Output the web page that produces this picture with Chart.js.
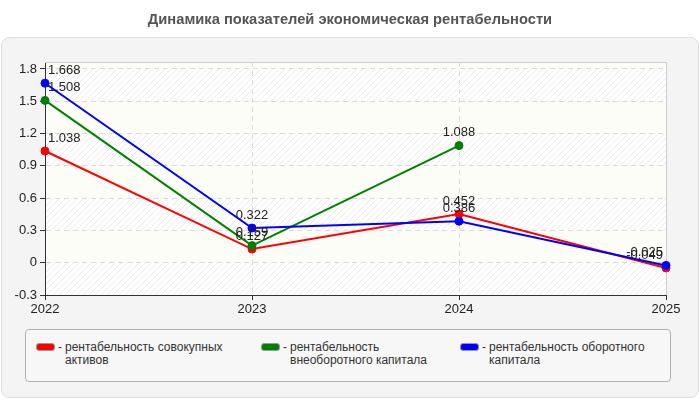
<!DOCTYPE html>
<html lang="ru">
<head>
<meta charset="utf-8">
<script src="https://cdn.jsdelivr.net/npm/chart.js@4/dist/chart.umd.min.js"></script>
<style>
    html, body { margin: 0; padding: 0; background: #fff; }
    #wrap { position: relative; width: 700px; height: 400px; overflow: hidden; font-family: "Liberation Sans", Arial, sans-serif; }
    #title { position: absolute; top: 11px; left: 0; width: 700px; text-align: center; font-size: 14.7px; font-weight: bold; color: #555; }
    #chart { position: absolute; left: 0; top: 0; }
    #legend { position: absolute; left: 25px; top: 329px; width: 646px; height: 53px; border: 1px solid #b0b0b0; border-radius: 4px; background: #f7f7f7; box-sizing: border-box; }
    .item { position: absolute; top: 11px; display: flex; align-items: flex-start; font-size: 12px; line-height: 13px; color: #333; }
    .swatch { width: 17px; height: 6px; border-radius: 3px; border: 1px solid #999; margin-top: 2px; }
    .dash { margin: 0 3px 0 3px; }
</style>
</head>
<body>
<div id="wrap">
    <canvas id="chart" width="700" height="400"></canvas>
    <div id="title">Динамика показателей экономическая рентабельности</div>
    <div id="legend"></div>
</div>
<script>
// chart data
const years = ["2022", "2023", "2024", "2025"];
const totalAssetsReturn = [1.038, 0.127, 0.452, -0.049];
const fixedCapitalReturn = [1.508, 0.159, 1.088, null];
const workingCapitalReturn = [1.668, 0.322, 0.386, -0.025];
const seriesNames = [
    "рентабельность совокупных активов",
    "рентабельность внеоборотного капитала",
    "рентабельность оборотного капитала"
];
const seriesColors = ["#ff0000", "#008000", "#0000ff"];
const yTicks = [-0.3, 0, 0.3, 0.6, 0.9, 1.2, 1.5, 1.8];
const yMin = -0.3;
const yMax = 1.865;

document.addEventListener("DOMContentLoaded", function () {
    const ctx = document.getElementById("chart").getContext("2d");

    // hatch pattern for the striped plot background
    const patCanvas = document.createElement("canvas");
    patCanvas.width = 6;
    patCanvas.height = 6;
    const pctx = patCanvas.getContext("2d");
    pctx.fillStyle = "#ffffff";
    pctx.fillRect(0, 0, 6, 6);
    pctx.strokeStyle = "#ebebeb";
    pctx.lineWidth = 1;
    pctx.beginPath();
    pctx.moveTo(-1, 7); pctx.lineTo(7, -1);
    pctx.moveTo(-1, 1); pctx.lineTo(1, -1);
    pctx.moveTo(5, 7); pctx.lineTo(7, 5);
    pctx.stroke();
    const hatch = ctx.createPattern(patCanvas, "repeat");

    const backgroundPlugin = {
        id: "panelBackground",
        beforeDraw(chart) {
            const c = chart.ctx;
            const area = chart.chartArea;
            const y = chart.scales.y;
            c.save();
            // grey panel
            c.fillStyle = "#f4f4f4";
            c.strokeStyle = "#dedede";
            c.lineWidth = 1;
            c.beginPath();
            c.roundRect(1.5, 37.5, 697, 360, 8);
            c.fill();
            c.stroke();
            // alternating bands between the ticks
            const bounds = [yMax].concat(yTicks.slice().reverse());
            for (let i = 0; i < bounds.length - 1; i++) {
                const top = y.getPixelForValue(bounds[i]);
                const bottom = y.getPixelForValue(bounds[i + 1]);
                c.fillStyle = i % 2 === 0 ? "#fdfdf7" : hatch;
                c.fillRect(area.left, top, area.right - area.left, bottom - top);
            }
            c.restore();
        },
        beforeDatasetsDraw(chart) {
            const c = chart.ctx;
            const area = chart.chartArea;
            c.save();
            c.strokeStyle = "#cccccc";
            c.lineWidth = 1;
            c.beginPath();
            c.moveTo(area.left, area.top + 0.5);
            c.lineTo(area.right + 0.5, area.top + 0.5);
            c.lineTo(area.right + 0.5, area.bottom);
            c.stroke();
            c.restore();
        }
    };

    // value labels above each point
    const valueLabels = {
        id: "valueLabels",
        afterDatasetsDraw(chart) {
            const c = chart.ctx;
            const area = chart.chartArea;
            c.save();
            c.font = "13px 'Liberation Sans', Arial, sans-serif";
            c.fillStyle = "#222";
            c.textBaseline = "middle";
            c.textAlign = "left";
            chart.data.datasets.forEach((ds, di) => {
                const meta = chart.getDatasetMeta(di);
                meta.data.forEach((pt, i) => {
                    const v = ds.data[i];
                    if (v === null || v === undefined) return;
                    const text = String(v);
                    const w = c.measureText(text).width;
                    let x = pt.x - w / 2;
                    x = Math.max(area.left + 3, Math.min(area.right - 3 - w, x));
                    c.fillText(text, x, pt.y - 13);
                });
            });
            c.restore();
        }
    };

    const datasets = [totalAssetsReturn, fixedCapitalReturn, workingCapitalReturn].map((data, i) => ({
        label: seriesNames[i],
        data: data,
        borderColor: seriesColors[i],
        backgroundColor: seriesColors[i],
        borderWidth: 2,
        pointRadius: 4,
        pointBorderWidth: 1,
        tension: 0,
        spanGaps: false,
        order: 3 - i
    }));

    const gridOpts = {
        color: "#dadada",
        tickColor: "#333",
        tickBorderDash: [],
        tickLength: 5
    };

    new Chart(ctx, {
        type: "line",
        data: { labels: years, datasets: datasets },
        options: {
            responsive: false,
            animation: false,
            layout: { padding: { left: 0, top: 62, right: 34, bottom: 85 } },
            plugins: {
                legend: { display: false },
                title: { display: false },
                tooltip: { enabled: false }
            },
            scales: {
                x: {
                    type: "category",
                    offset: false,
                    afterFit(scale) { scale.height = 20; },
                    grid: gridOpts,
                    border: { color: "#333", width: 1, dash: [5, 4] },
                    ticks: {
                        color: "#222",
                        padding: 2,
                        maxRotation: 0,
                        font: { family: "'Liberation Sans', Arial, sans-serif", size: 13 }
                    }
                },
                y: {
                    min: yMin,
                    max: yMax,
                    afterFit(scale) { scale.width = 45; },
                    afterBuildTicks(scale) { scale.ticks = yTicks.map(v => ({ value: v })); },
                    grid: gridOpts,
                    border: { color: "#333", width: 1, dash: [5, 4] },
                    ticks: {
                        color: "#222",
                        padding: 3,
                        font: { family: "'Liberation Sans', Arial, sans-serif", size: 13 },
                        callback: v => String(+Number(v).toFixed(1))
                    }
                }
            }
        },
        plugins: [backgroundPlugin, valueLabels]
    });

    // html legend with wrapped names
    const legend = document.getElementById("legend");
    const itemLeft = [10, 235, 434];
    const textWidth = [178, 160, 180];
    seriesNames.forEach((name, i) => {
        const item = document.createElement("div");
        item.className = "item";
        item.style.left = itemLeft[i] + "px";
        item.innerHTML = '<div class="swatch" style="background:' + seriesColors[i] + '"></div>' +
            '<span class="dash">-</span><span style="width:' + textWidth[i] + 'px">' + name + '</span>';
        legend.appendChild(item);
    });
});
</script>
</body>
</html>
